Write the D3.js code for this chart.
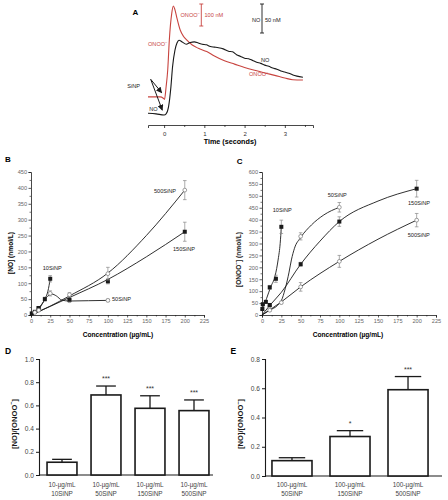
<!DOCTYPE html>
<html><head><meta charset="utf-8">
<script src="https://cdn.jsdelivr.net/npm/d3@7"></script>
<style>body{margin:0;background:#fff}svg{display:block;font-family:"Liberation Sans",Arial,sans-serif}</style>
</head><body><svg id="c" width="448" height="500"></svg>
<script>
// ---------- DATA ----------
// Panel A: amperometric traces (nM, relative)
const timeNO   = [-0.4,-0.2,0,0.05,0.11,0.17,0.21,0.27,0.32,0.37,0.45,0.55,0.65,0.75,0.85,0.95,1.05,1.15,1.25,1.35,1.47,1.6,1.7,1.8,1.9,2.0,2.1,2.2,2.3,2.4,2.5,2.6,2.7,2.8,2.9,3.0,3.1,3.2,3.3,3.45];
const valNO    = [3,2,0,2,14,49,83,112,124,129,126,122,125,126,124,122,121,118,117,116,114,110,109,104,101,98,97,94,91,89,86,84,81,79,76,74,72,69,67,65];
const timeONOO = [-0.4,-0.1,-0.02,0.01,0.05,0.09,0.13,0.19,0.23,0.27,0.31,0.4,0.48,0.56,0.7,0.85,1.06,1.25,1.5,1.75,2.0,2.25,2.5,2.75,3.0,3.2,3.45];
const valONOO  = [14,14,8,3,60,136,273,394,427,410,379,318,290,273,250,235,220,200,178,163,148,135,123,112,100,92,91];
const timeTicks = [0,1,2,3];

// Panel B: [NO] vs concentration
const concTicks = [0,25,50,75,100,125,150,175,200,225];
const noTicks = [0,50,100,150,200,250,300,350,400,450];
const b10x = [1,5,10,18,25],        b10y = [5,10,22,50,114],    b10e = [2,3,4,6,10];
const b50x = [5,10,25,50,100],      b50y = [8,20,68,45,46],     b50e = [2,3,8,4,4];
const b150x = [10,50,100,200],      b150y = [22,48,106,262],    b150e = [3,5,8,30];
const b500x = [10,50,100,200],      b500y = [15,64,130,393],    b500e = [3,6,20,30];
const b10fit  = [[0,0],[5,9],[10,22],[18,50],[22,75],[25,114]];
const b50fit  = [[0,0],[10,18],[20,55],[27,66],[33,60],[40,47],[50,44],[75,45],[100,46]];
const b150fit = [[0,0],[25,27],[50,55],[100,112],[150,183],[200,262]];
const b500fit = [[0,0],[25,28],[50,60],[100,132],[150,250],[200,393]];

// Panel C: [ONOO-] vs concentration
const onooTicks = [0,50,100,150,200,250,300,350,400,450,500,550,600];
const c10x = [0.5,1,5,10,18,25],   c10y = [25,45,55,116,152,370],  c10e = [5,6,6,8,15,28];
const c50x = [10,25,50,100],        c50y = [38,52,330,452],         c50e = [4,5,15,20];
const c150x = [10,50,100,200],      c150y = [42,213,392,530],       c150e = [5,8,20,35];
const c500x = [10,50,100,200],      c500y = [20,118,225,398],       c500e = [4,18,25,28];
const c10fit  = [[0,25],[3,45],[6,70],[11,116],[17,165],[21,235],[23.5,300],[25,370]];
const c50fit  = [[0,0],[10,20],[20,40],[25,60],[30,110],[35,180],[38,231],[42,280],[50,325],[64,378],[80,420],[100,452]];
const c150fit = [[0,0],[10,40],[25,95],[50,213],[75,310],[100,392],[150,478],[200,530]];
const c500fit = [[0,0],[25,55],[50,118],[100,225],[150,318],[200,398]];

// Panel D / E: ratios
const dCats = ["10SiNP","50SiNP","150SiNP","500SiNP"];
const dDose = "10-µg/mL";
const dVals = [0.11,0.69,0.575,0.555];
const dErrs = [0.025,0.077,0.108,0.092];
const dSig  = ["","***","***","***"];
const dTicks = [0,0.2,0.4,0.6,0.8,1.0];
const eCats = ["50SiNP","150SiNP","500SiNP"];
const eDose = "100-µg/mL";
const eVals = [0.105,0.27,0.59];
const eErrs = [0.02,0.04,0.09];
const eSig  = ["","*","***"];
const eTicks = [0,0.2,0.4,0.6,0.8];

// ---------- DRAW ----------
const svg = d3.select("#c");
const RED = "#c8443f", BLK = "#1a1a1a", GRAY="#666";

function supText(g, x, y, base, sup, opts){
  const t = g.append("text").attr("x",x).attr("y",y)
    .attr("font-size",opts.size).attr("fill",opts.fill||BLK)
    .attr("font-weight",opts.weight||"normal").attr("text-anchor",opts.anchor||"start");
  if(opts.rotate) t.attr("transform",`rotate(-90,${x},${y})`);
  t.append("tspan").text(base);
  t.append("tspan").attr("font-size",opts.size*0.7).attr("dy",-opts.size*0.4).text(sup);
  if(opts.after) t.append("tspan").attr("dy",opts.size*0.4).text(opts.after);
  return t;
}

// ===== Panel A =====
{
  const g = svg.append("g");
  const x = d3.scaleLinear().domain([-0.4,3.7]).range([148,313]);
  const yNO = d3.scaleLinear().domain([0,50]).range([115,86]);
  const yON = d3.scaleLinear().domain([0,100]).range([100,78]);
  const ax = g.append("g").attr("transform","translate(0,125)")
    .call(d3.axisBottom(x).tickValues(timeTicks).tickSize(3).tickFormat(d3.format("d")));
  ax.select(".domain").attr("stroke",BLK).attr("stroke-width",0.8);
  ax.selectAll(".tick line").attr("stroke",BLK).attr("stroke-width",0.8);
  ax.selectAll("text").attr("font-size",6).attr("fill","#333").attr("dy","0.9em").attr("font-family","Liberation Sans, Arial, sans-serif");
  const axm = g.append("g").attr("transform","translate(0,125)")
    .call(d3.axisBottom(x).tickValues([0.5,1.5,2.5,3.5]).tickSize(2).tickFormat(""));
  axm.select(".domain").remove();
  axm.selectAll(".tick line").attr("stroke",BLK).attr("stroke-width",0.7);
  g.append("text").attr("x",230).attr("y",144).attr("text-anchor","middle")
    .attr("font-size",7.2).attr("font-weight","bold").text("Time (seconds)");
  g.append("text").attr("x",132.5).attr("y",15).attr("font-size",8).attr("font-weight","bold").text("A");

  const lineNO = d3.line().x((d,i)=>x(timeNO[i])).y(d=>yNO(d)).curve(d3.curveMonotoneX);
  const lineON = d3.line().x((d,i)=>x(timeONOO[i])).y(d=>yON(d)).curve(d3.curveMonotoneX);
  g.append("path").attr("d",lineON(valONOO)).attr("fill","none").attr("stroke",RED).attr("stroke-width",1.1);
  g.append("path").attr("d",lineNO(valNO)).attr("fill","none").attr("stroke",BLK).attr("stroke-width",1.1);

  // scale bars
  const barTop = 4;
  const hON = yON(0)-yON(100), hNO = yNO(0)-yNO(50);
  g.append("line").attr("x1",201.3).attr("x2",201.3).attr("y1",barTop).attr("y2",barTop+hON).attr("stroke",RED).attr("stroke-width",0.9);
  [barTop,barTop+hON].forEach(v=>g.append("line").attr("x1",199.3).attr("x2",203.3).attr("y1",v).attr("y2",v).attr("stroke",RED).attr("stroke-width",0.9));
  g.append("line").attr("x1",262).attr("x2",262).attr("y1",barTop).attr("y2",barTop+hNO).attr("stroke",BLK).attr("stroke-width",0.9);
  [barTop,barTop+hNO].forEach(v=>g.append("line").attr("x1",260).attr("x2",264).attr("y1",v).attr("y2",v).attr("stroke",BLK).attr("stroke-width",0.9));

  supText(g,180.5,17,"ONOO","−",{size:5.6,fill:RED});
  g.append("text").attr("x",204.5).attr("y",17).attr("font-size",5.6).attr("fill",RED).text("100 nM");
  g.append("text").attr("x",252).attr("y",22).attr("font-size",5.6).attr("fill",BLK).text("NO");
  g.append("text").attr("x",265).attr("y",22).attr("font-size",5.6).attr("fill",BLK).text("50 nM");
  supText(g,148,46,"ONOO","−",{size:5.6,fill:RED});
  g.append("text").attr("x",261).attr("y",61.5).attr("font-size",5.6).attr("fill",BLK).text("NO");
  supText(g,249,76,"ONOO","−",{size:5.6,fill:RED});
  g.append("text").attr("x",127.3).attr("y",87.5).attr("font-size",5.6).attr("fill",BLK).text("SiNP");
  g.append("text").attr("x",149.3).attr("y",111).attr("font-size",5.6).attr("fill",BLK).text("NO");

  const defs = svg.append("defs");
  defs.append("marker").attr("id","arr").attr("viewBox","0 0 10 10").attr("refX",9).attr("refY",5)
    .attr("markerWidth",6).attr("markerHeight",6).attr("orient","auto")
    .append("path").attr("d","M0,0 L10,5 L0,10 z").attr("fill",BLK);
  [[161.7,92.7],[162.3,110.2]].forEach(([ex,ey])=>{
    g.append("line").attr("x1",150.7).attr("y1",79.3).attr("x2",ex).attr("y2",ey)
      .attr("stroke",BLK).attr("stroke-width",1).attr("marker-end","url(#arr)");
  });
}

// ===== scatter panels B / C =====
function scatterPanel(o){
  const g = svg.append("g");
  const x = d3.scaleLinear().domain([0,225]).range(o.xr);
  const y = d3.scaleLinear().domain([0,o.ymax]).range(o.yr);
  const styleAxis = a=>{
    a.select(".domain").attr("stroke",BLK).attr("stroke-width",0.8);
    a.selectAll(".tick line").attr("stroke",BLK).attr("stroke-width",0.7);
    a.selectAll("text").attr("font-size",5.6).attr("fill",GRAY).attr("font-family","Liberation Sans, Arial, sans-serif");
  };
  const ax = g.append("g").attr("transform",`translate(0,${o.yr[0]})`)
    .call(d3.axisBottom(x).tickValues(concTicks).tickSize(2.5).tickPadding(1.5));
  styleAxis(ax);
  const axm = g.append("g").attr("transform",`translate(0,${o.yr[0]})`)
    .call(d3.axisBottom(x).tickValues(concTicks.slice(0,-1).map(v=>v+12.5)).tickSize(1.5).tickFormat(""));
  axm.select(".domain").remove(); axm.selectAll(".tick line").attr("stroke",BLK).attr("stroke-width",0.6);
  const ay = g.append("g").attr("transform",`translate(${o.xr[0]},0)`)
    .call(d3.axisLeft(y).tickValues(o.yticks).tickSize(2.5).tickPadding(1.5));
  styleAxis(ay);
  const aym = g.append("g").attr("transform",`translate(${o.xr[0]},0)`)
    .call(d3.axisLeft(y).tickValues(o.yticks.slice(0,-1).map(v=>v+25)).tickSize(1.5).tickFormat(""));
  aym.select(".domain").remove(); aym.selectAll(".tick line").attr("stroke",BLK).attr("stroke-width",0.6);

  g.append("text").attr("x",o.xt).attr("y",337).attr("text-anchor","middle")
    .attr("font-size",6.6).attr("font-weight","bold").text("Concentration (µg/mL)");
  o.ytitle(g);
  g.append("text").attr("x",o.letter[0]).attr("y",o.letter[1]).attr("font-size",8).attr("font-weight","bold").text(o.letterText);

  const line = d3.line().x(d=>x(d[0])).y(d=>y(d[1])).curve(d3.curveMonotoneX);
  o.series.forEach(s=>{
    g.append("path").attr("d",line(s.fit)).attr("fill","none").attr("stroke",BLK).attr("stroke-width",0.9);
  });
  o.series.forEach(s=>{
    s.x.forEach((cx,i)=>{
      const px=x(cx), py0=y(s.y[i]-s.e[i]), py1=y(s.y[i]+s.e[i]);
      g.append("line").attr("x1",px).attr("x2",px).attr("y1",py0).attr("y2",py1).attr("stroke","#888").attr("stroke-width",0.7);
      [py0,py1].forEach(v=>g.append("line").attr("x1",px-1.8).attr("x2",px+1.8).attr("y1",v).attr("y2",v).attr("stroke","#888").attr("stroke-width",0.7));
      if(s.filled){
        g.append("rect").attr("x",px-2).attr("y",y(s.y[i])-2).attr("width",4).attr("height",4).attr("fill",BLK);
      } else {
        g.append("circle").attr("cx",px).attr("cy",y(s.y[i])).attr("r",1.9).attr("fill","#fff").attr("stroke","#777").attr("stroke-width",0.7);
      }
    });
  });
  o.labels.forEach(l=>g.append("text").attr("x",l[1]).attr("y",l[2]).attr("font-size",5.6).attr("fill",BLK).text(l[0]));
}

scatterPanel({
  xr:[31,204], yr:[315,172], ymax:450, yticks:noTicks, xt:118,
  letter:[5,162], letterText:"B",
  ytitle:g=>g.append("text").attr("transform","translate(12.5,253) rotate(-90)").attr("text-anchor","middle")
      .attr("font-size",6.6).attr("font-weight","bold").text("[NO] (nmol/L)"),
  series:[
    {x:b10x,y:b10y,e:b10e,fit:b10fit,filled:true},
    {x:b50x,y:b50y,e:b50e,fit:b50fit,filled:false},
    {x:b150x,y:b150y,e:b150e,fit:b150fit,filled:true},
    {x:b500x,y:b500y,e:b500e,fit:b500fit,filled:false}
  ],
  labels:[["10SiNP",42.7,270],["50SiNP",112,301],["500SiNP",154,193],["150SiNP",173,250.7]]
});

scatterPanel({
  xr:[262,436], yr:[315,172], ymax:600, yticks:onooTicks, xt:348,
  letter:[236.7,164], letterText:"C",
  ytitle:g=>supText(g,240.5,259.5,"[ONOO","−",{size:6.6,weight:"bold",anchor:"middle",rotate:true,after:"] (nmol/L)"}),
  series:[
    {x:c10x,y:c10y,e:c10e,fit:c10fit,filled:true},
    {x:c50x,y:c50y,e:c50e,fit:c50fit,filled:false},
    {x:c150x,y:c150y,e:c150e,fit:c150fit,filled:true},
    {x:c500x,y:c500y,e:c500e,fit:c500fit,filled:false}
  ],
  labels:[["10SiNP",272.7,212.3],["50SiNP",327.7,197],["150SiNP",408,205.3],["500SiNP",407.7,237]]
});

// ===== bar panels D / E =====
function barPanel(o){
  const g = svg.append("g");
  const x = d3.scaleBand().domain(o.cats).range(o.xr).paddingInner(o.pi).paddingOuter(o.po);
  const y = d3.scaleLinear().domain([0,o.ymax]).range(o.yr);
  const ay = g.append("g").attr("transform",`translate(${o.ax},0)`)
    .call(d3.axisLeft(y).tickValues(o.ticks).tickSize(3).tickPadding(2).tickFormat(d3.format(".1f")));
  ay.select(".domain").attr("stroke",BLK).attr("stroke-width",1.1);
  ay.selectAll(".tick line").attr("stroke",BLK).attr("stroke-width",1);
  ay.selectAll("text").attr("font-size",6.6).attr("fill","#444").attr("font-family","Liberation Sans, Arial, sans-serif");
  g.append("line").attr("x1",o.ax).attr("x2",o.axEnd).attr("y1",o.yr[0]).attr("y2",o.yr[0]).attr("stroke",BLK).attr("stroke-width",1.1);
  o.cats.forEach((c,i)=>{
    const bx = x(c), bw = x.bandwidth(), cx = bx+bw/2;
    const top = y(o.vals[i]), etop = y(o.vals[i]+o.errs[i]);
    g.append("line").attr("x1",cx).attr("x2",cx).attr("y1",top).attr("y2",etop).attr("stroke",BLK).attr("stroke-width",1.3);
    g.append("line").attr("x1",cx-bw*0.33).attr("x2",cx+bw*0.33).attr("y1",etop).attr("y2",etop).attr("stroke",BLK).attr("stroke-width",1.3);
    g.append("rect").attr("x",bx).attr("y",top).attr("width",bw).attr("height",o.yr[0]-top)
      .attr("fill","#fff").attr("stroke",BLK).attr("stroke-width",1.6);
    if(o.sig[i]) g.append("text").attr("x",cx).attr("y",etop-5).attr("text-anchor","middle").attr("font-size",7).attr("fill","#333").text(o.sig[i]);
    g.append("text").attr("x",cx).attr("y",487).attr("text-anchor","middle").attr("font-size",6.4).attr("fill","#444").text(o.dose);
    g.append("text").attr("x",cx).attr("y",495.5).attr("text-anchor","middle").attr("font-size",6.4).attr("fill","#444").text(c);
  });
  g.append("text").attr("x",o.letter[0]).attr("y",354).attr("font-size",8.5).attr("font-weight","bold").text(o.letterText);
  supText(g,o.yt,424,"[NO]/[ONOO","−",{size:7.6,weight:"bold",anchor:"middle",rotate:true,after:"]"});
}

barPanel({cats:dCats, vals:dVals, errs:dErrs, sig:dSig, dose:dDose, ticks:dTicks, ymax:1.0,
  xr:[40,216], pi:0.32, po:0.16, yr:[475,359], ax:39, axEnd:213, letter:[5,0], letterText:"D", yt:16.5});
barPanel({cats:eCats, vals:eVals, errs:eErrs, sig:eSig, dose:eDose, ticks:eTicks, ymax:0.8,
  xr:[265,435], pi:0.31, po:0.12, yr:[476,359], ax:265, axEnd:442, letter:[230.5,0], letterText:"E", yt:243});
</script></body></html>
